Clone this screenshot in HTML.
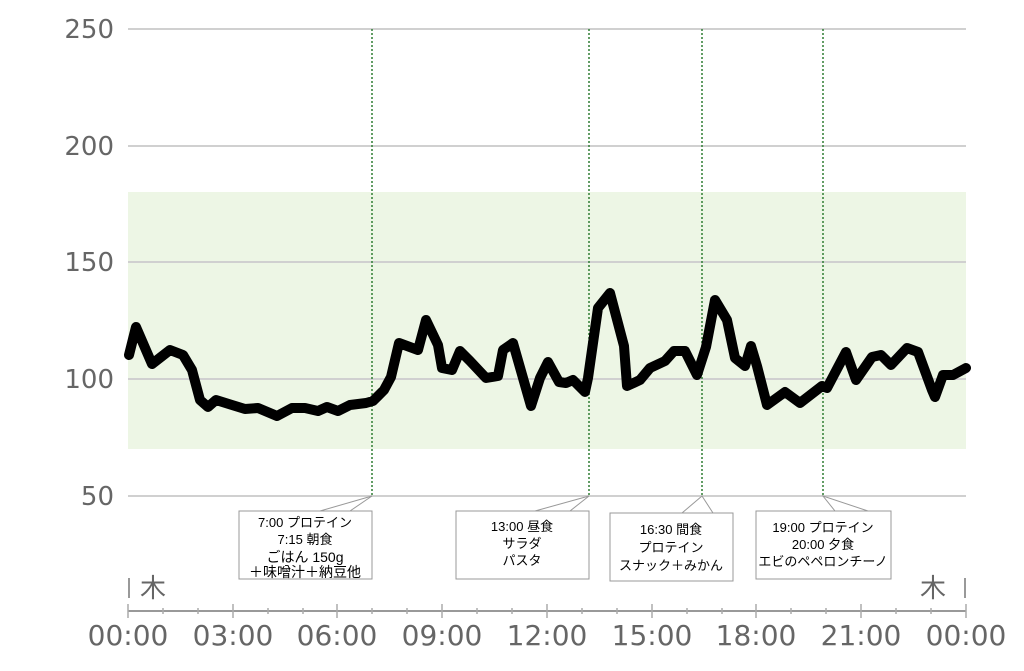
<!DOCTYPE html>
<html><head><meta charset="utf-8"><style>
body{margin:0;background:#fff}
svg text{font-family:"Liberation Sans","Noto Sans CJK JP",sans-serif}
svg text.ax{font-family:"DejaVu Sans","Liberation Sans",sans-serif}
</style></head><body>
<svg width="1024" height="666" viewBox="0 0 1024 666" xmlns="http://www.w3.org/2000/svg">
<rect x="128" y="192" width="838" height="257" fill="#edf6e5"/>
<g stroke="#d0d0d0" stroke-width="2">
<line x1="128" y1="29" x2="966" y2="29"/><line x1="128" y1="146" x2="966" y2="146"/>
<line x1="128" y1="262" x2="966" y2="262"/><line x1="128" y1="379" x2="966" y2="379"/>
<line x1="128" y1="496" x2="966" y2="496"/></g>
<g fill="#666" font-size="26" text-anchor="end">
<text class="ax" x="114" y="38">250</text><text class="ax" x="114" y="155">200</text><text class="ax" x="114" y="271">150</text><text class="ax" x="114" y="388">100</text><text class="ax" x="114" y="505">50</text></g>
<g stroke="#2e7d32" stroke-width="1.5" stroke-dasharray="2,2">
<line x1="372" y1="29" x2="372" y2="496"/><line x1="589" y1="29" x2="589" y2="496"/>
<line x1="702" y1="29" x2="702" y2="496"/><line x1="823" y1="29" x2="823" y2="496"/></g>
<polyline fill="none" stroke="#000" stroke-width="10" stroke-linejoin="round" stroke-linecap="round" points="129,355 136,327 152,364 170,350 183,355 192,370 200,400 208,407 216,400 232,405 245,409 258,408 277,416 292,408 305,408 318,411 327,407 338,411 350,405 366,403 373,401 384,390 391,377 399,343 418,350 426,320 438,345 442,368 452,370 460,351 470,361 486,378 498,376 503,350 513,343 531,406 540,378 548,362 559,382 566,383 573,380 585,392 588,378 598,308 610,293 624,346 627,386 640,380 650,368 665,361 674,351 685,351 697,375 706,347 715,300 727,320 735,358 745,366 751,346 757,366 767,405 785,392 800,403 822,386 827,388 846,352 856,380 872,357 881,355 891,365 907,348 918,352 932,390 935,397 943,375 953,375 966,368"/>
<g fill="#fff" stroke="#999" stroke-width="1">
<rect x="239" y="511" width="133" height="68"/><rect x="456" y="511" width="133" height="68"/>
<rect x="610" y="513" width="123" height="68"/><rect x="756" y="511" width="135" height="68"/></g>
<g stroke="#999" stroke-width="1" fill="none">
<polyline points="320,511 372,496 350,511"/><polyline points="535,511 589,496 570,511"/>
<polyline points="682,513 702,496 713,513"/><polyline points="835,511 823,496 868,511"/></g>
<g font-size="13" text-anchor="middle" fill="#000">
<text x="305" y="527">7:00 プロテイン</text><text x="305" y="544">7:15 朝食</text><text x="305" y="562" font-size="14">ごはん 150g</text><text x="305" y="577" font-size="14">＋味噌汁＋納豆他</text>
<text x="522" y="531">13:00 昼食</text><text x="522" y="548">サラダ</text><text x="522" y="565">パスタ</text>
<text x="671" y="534">16:30 間食</text><text x="671" y="552">プロテイン</text><text x="671" y="570">スナック＋みかん</text>
<text x="823" y="532">19:00 プロテイン</text><text x="823" y="549">20:00 夕食</text><text x="823" y="566">エビのペペロンチーノ</text></g>
<g fill="#666" font-size="26"><text x="140" y="597">木</text><text x="920" y="597">木</text></g>
<g stroke="#999" stroke-width="2"><line x1="129" y1="578" x2="129" y2="598"/><line x1="965" y1="578" x2="965" y2="598"/>
<line x1="128" y1="611" x2="966" y2="611"/></g>
<g stroke="#aaa" stroke-width="1.5">
<line x1="128" y1="604" x2="128" y2="618"/><line x1="163" y1="608" x2="163" y2="614"/><line x1="198" y1="608" x2="198" y2="614"/>
<line x1="233" y1="604" x2="233" y2="618"/><line x1="268" y1="608" x2="268" y2="614"/><line x1="303" y1="608" x2="303" y2="614"/>
<line x1="337" y1="604" x2="337" y2="618"/><line x1="372" y1="608" x2="372" y2="614"/><line x1="407" y1="608" x2="407" y2="614"/>
<line x1="442" y1="604" x2="442" y2="618"/><line x1="477" y1="608" x2="477" y2="614"/><line x1="512" y1="608" x2="512" y2="614"/>
<line x1="547" y1="604" x2="547" y2="618"/><line x1="582" y1="608" x2="582" y2="614"/><line x1="617" y1="608" x2="617" y2="614"/>
<line x1="652" y1="604" x2="652" y2="618"/><line x1="687" y1="608" x2="687" y2="614"/><line x1="722" y1="608" x2="722" y2="614"/>
<line x1="756" y1="604" x2="756" y2="618"/><line x1="791" y1="608" x2="791" y2="614"/><line x1="826" y1="608" x2="826" y2="614"/>
<line x1="861" y1="604" x2="861" y2="618"/><line x1="896" y1="608" x2="896" y2="614"/><line x1="931" y1="608" x2="931" y2="614"/>
<line x1="966" y1="604" x2="966" y2="618"/></g>
<g fill="#666" font-size="28" text-anchor="middle">
<text class="ax" x="128" y="645">00:00</text><text class="ax" x="233" y="645">03:00</text><text class="ax" x="337" y="645">06:00</text><text class="ax" x="442" y="645">09:00</text><text class="ax" x="547" y="645">12:00</text><text class="ax" x="652" y="645">15:00</text><text class="ax" x="756" y="645">18:00</text><text class="ax" x="861" y="645">21:00</text><text class="ax" x="966" y="645">00:00</text></g>
</svg>
</body></html>
